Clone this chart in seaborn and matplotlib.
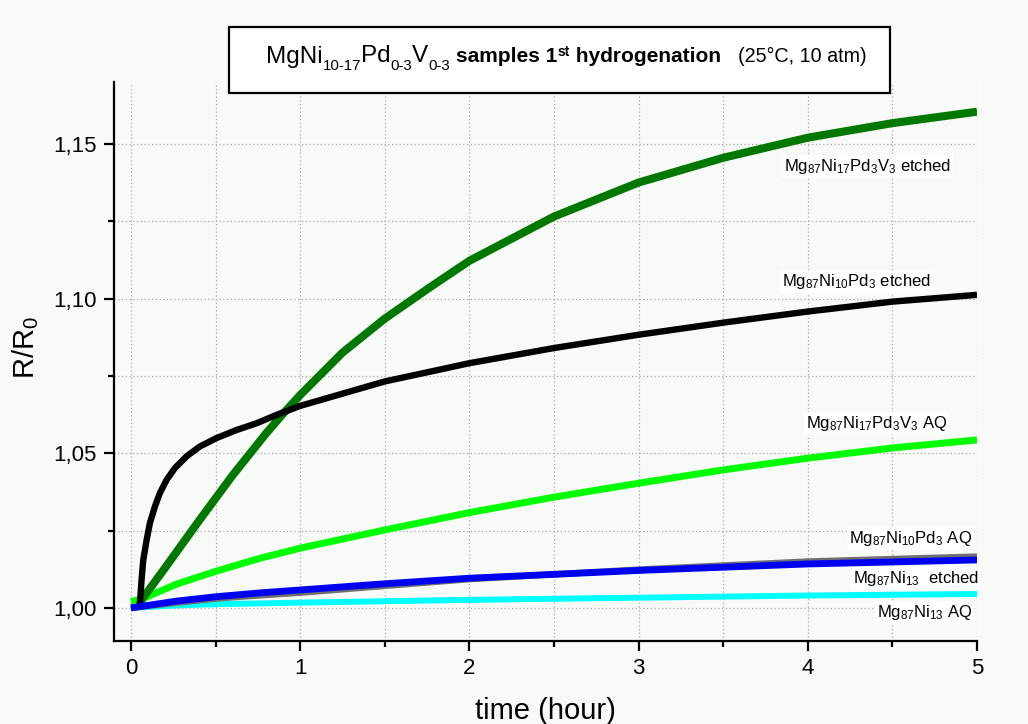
import matplotlib
matplotlib.use("Agg")
import matplotlib.pyplot as plt
import seaborn as sns
import pandas as pd
from matplotlib.patches import Rectangle
from matplotlib.ticker import MultipleLocator, FixedLocator, FixedFormatter

sns.set_theme(style="ticks")
plt.rcParams["font.family"] = ["Liberation Sans", "DejaVu Sans"]
plt.rcParams["mathtext.fontset"] = "custom"
plt.rcParams["mathtext.rm"] = "Liberation Sans"
plt.rcParams["mathtext.it"] = "Liberation Sans:italic"
plt.rcParams["mathtext.bf"] = "Liberation Sans:bold"
for k in ["text.color", "axes.labelcolor", "xtick.color", "ytick.color", "axes.edgecolor"]:
    plt.rcParams[k] = "black"

# ---------------- data ----------------
t_v3_etched = [0.05, 0.063, 0.2, 0.4, 0.6, 0.8, 0.9, 1.0, 1.25, 1.5, 1.75, 2.0, 2.5, 3.0, 3.5, 4.0, 4.5, 5.0]
r_v3_etched = [1.000, 1.0026, 1.0128, 1.0280, 1.0428, 1.0565, 1.0628, 1.0688, 1.0825, 1.0935, 1.1030,
               1.1122, 1.1265, 1.1375, 1.1455, 1.1520, 1.1567, 1.1604]

t_pd_etched = [0.05, 0.053, 0.063, 0.073, 0.093, 0.112, 0.142, 0.171, 0.211, 0.26, 0.329, 0.408,
               0.506, 0.624, 0.743, 0.861, 1.0, 1.5, 2.0, 2.5, 3.0, 3.5, 4.0, 4.5, 5.0]
r_pd_etched = [1.000, 1.0015, 1.0091, 1.0155, 1.0220, 1.0274, 1.0328, 1.0371, 1.0414, 1.0452, 1.0490,
               1.0522, 1.0549, 1.0575, 1.0597, 1.0624, 1.0653, 1.0732, 1.0791, 1.0840, 1.0883,
               1.0922, 1.0958, 1.0990, 1.1012]

t_v3_aq = [0.0, 0.07, 0.27, 0.5, 0.76, 1.0, 1.5, 2.0, 2.5, 3.0, 3.5, 4.0, 4.5, 5.0]
r_v3_aq = [1.002, 1.003, 1.0077, 1.0118, 1.0160, 1.0193, 1.0252, 1.0308, 1.0358, 1.0403,
           1.0446, 1.0484, 1.0517, 1.0543]

t_pd_aq = [0.0, 0.27, 0.5, 0.75, 1.0, 1.5, 2.0, 3.0, 4.0, 5.0]
r_pd_aq = [1.000, 1.0017, 1.0030, 1.0040, 1.0049, 1.0071, 1.0093, 1.0124, 1.0150, 1.0166]

t_ni_etched = [0.0, 0.27, 0.5, 0.75, 1.0, 1.5, 2.0, 3.0, 4.0, 5.0]
r_ni_etched = [1.000, 1.0022, 1.0036, 1.0048, 1.0058, 1.0078, 1.0096, 1.0121, 1.0142, 1.0155]

t_ni_aq = [0.0, 0.27, 0.5, 1.0, 2.0, 3.0, 4.0, 5.0]
r_ni_aq = [1.000, 1.0008, 1.0012, 1.0017, 1.0026, 1.0033, 1.0040, 1.0045]

y_ticks = [1.00, 1.05, 1.10, 1.15]
y_tick_labels = ["1,00", "1,05", "1,10", "1,15"]
x_ticks = [0, 1, 2, 3, 4, 5]

series_labels = [
    r"$\mathregular{Mg_{87}Ni_{17}Pd_{3}V_{3}}$ etched",
    r"$\mathregular{Mg_{87}Ni_{10}Pd_{3}}$ etched",
    r"$\mathregular{Mg_{87}Ni_{17}Pd_{3}V_{3}}$ AQ",
    r"$\mathregular{Mg_{87}Ni_{10}Pd_{3}}$ AQ",
    r"$\mathregular{Mg_{87}Ni_{13}}$  etched",
    r"$\mathregular{Mg_{87}Ni_{13}}$ AQ",
]
label_pos = [(3.86, 1.1411), (3.85, 1.1042), (3.99, 1.0581), (4.245, 1.0211), (4.265, 1.0082), (4.407, 0.9972)]

# ---------------- figure ----------------
W, H = 1028, 724
bg = "#f8faf8"
fig = plt.figure(figsize=(W / 100, H / 100), dpi=100, facecolor=bg)
ax = fig.add_axes([114 / W, 83 / H, (977 - 114) / W, (641 - 82) / H])
ax.set_facecolor(bg)

# draw order: cyan, light green, dark green, black, gray, blue
plots = [
    (t_ni_aq, r_ni_aq, "#00ffff", 4.3),
    (t_v3_aq, r_v3_aq, "#00ff00", 5.0),
    (t_v3_etched, r_v3_etched, "#007800", 5.8),
    (t_pd_etched, r_pd_etched, "#000000", 4.6),
    (t_pd_aq, r_pd_aq, "#707070", 4.6),
    (t_ni_etched, r_ni_etched, "#0000f0", 4.9),
]
for tx, ry, col, lw in plots:
    df = pd.DataFrame({"t": tx, "r": ry})
    sns.lineplot(data=df, x="t", y="r", color=col, lw=lw, ax=ax, sort=False,
                 estimator=None, solid_capstyle="butt", solid_joinstyle="round")

ax.set_xlim(-0.1, 5.0)
ax.set_ylim(0.9893, 1.170)

ax.xaxis.set_major_locator(FixedLocator(x_ticks))
ax.xaxis.set_minor_locator(MultipleLocator(0.5))
ax.yaxis.set_major_locator(FixedLocator(y_ticks))
ax.yaxis.set_major_formatter(FixedFormatter(y_tick_labels))
ax.yaxis.set_minor_locator(MultipleLocator(0.025))

ax.set_axisbelow(True)
ax.grid(which="both", linestyle=(0, (1, 2)), color="#a8a8a8", lw=0.9)

for s in ["top", "right"]:
    ax.spines[s].set_visible(False)
for s in ["left", "bottom"]:
    ax.spines[s].set_linewidth(1.6)
    ax.spines[s].set_color("black")

ax.tick_params(which="major", direction="out", length=7.5, width=1.6, labelsize=16, pad=5, colors="black")
ax.tick_params(which="minor", direction="out", length=4, width=1.6)

ax.set_xlabel("")
ax.set_ylabel("")
fig.text(545 / W, 1 - 719 / H, "time (hour)", fontsize=21, ha="center", va="baseline")
fig.text(26 / W, 1 - 348 / H, r"R/R$_\mathregular{0}$", fontsize=21, rotation=90,
         ha="center", va="center")

for lab, (lx, ly) in zip(series_labels, label_pos):
    ax.text(lx, ly, lab, fontsize=12, ha="left", va="baseline", color="black",
            bbox=dict(facecolor="white", edgecolor="none", pad=1.5))

# title box
fig.patches.append(Rectangle((229 / W, 1 - 93 / H), 661 / W, 66 / H,
                             transform=fig.transFigure, facecolor="white",
                             edgecolor="black", lw=1.6, zorder=5))

renderer = fig.canvas.get_renderer()


def rich(x_px, base_px, parts):
    x = x_px
    for s, size, weight, dy in parts:
        t = fig.text(x / W, 1 - (base_px + dy) / H, s, fontsize=size, fontweight=weight,
                     ha="left", va="baseline", zorder=6)
        x += t.get_window_extent(renderer).width


rich(266, 62.5, [
    ("MgNi", 17.5, "normal", 0), ("10-17", 10.8, "normal", 8),
    ("Pd", 17.5, "normal", 0), ("0-3", 10.8, "normal", 8),
    ("V", 17.5, "normal", 0), ("0-3", 10.8, "normal", 8),
])
rich(456, 62.5, [
    ("samples 1", 15, "bold", 0), ("st", 10, "bold", -6), (" hydrogenation", 15, "bold", 0),
])
fig.text(738 / W, 1 - 62.5 / H, "(25°C, 10 atm)", fontsize=14.2, ha="left", va="baseline", zorder=6)

fig.savefig("out.png", dpi=100, facecolor=bg)
